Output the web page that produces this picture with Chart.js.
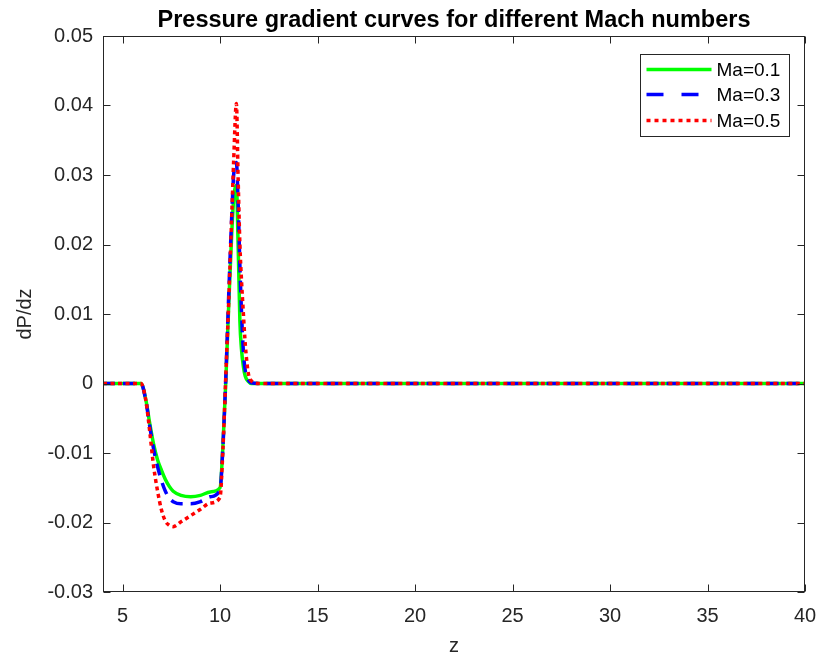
<!DOCTYPE html>
<html>
<head>
<meta charset="utf-8">
<script src="https://cdn.jsdelivr.net/npm/chart.js@4"></script>
<style>
  html, body { margin: 0; padding: 0; background: #fff; }
  canvas { display: block; }
</style>
</head>
<body>
<canvas id="dpdz" width="821" height="664"></canvas>
<script>
// values
const zGrid = [4, 5, 5.95, 6.2, 6.4, 6.6, 6.8, 7.0, 7.2, 7.4, 7.6, 8, 8.5, 9, 9.5, 10,
  10.15, 10.3, 10.45, 10.6, 10.7, 10.84, 10.93, 11.02, 11.1, 11.2, 11.3, 11.45, 11.6, 12, 20, 30, 40];

const dpMa01 = [0, 0, 0, -0.0024, -0.0058, -0.0088, -0.0110, -0.0125, -0.0138, -0.0148, -0.0155,
  -0.0161, -0.0163, -0.0161, -0.0156, -0.0150, -0.0090, 0.0005, 0.0115, 0.0215, 0.0265, 0.0285,
  0.0200, 0.0090, 0.0050, 0.0024, 0.0010, 0.0003, 0, 0, 0, 0, 0];
const dpMa03 = [0, 0, 0, -0.0025, -0.0062, -0.0095, -0.0120, -0.0140, -0.0155, -0.0165, -0.0170,
  -0.0173, -0.0173, -0.0170, -0.0163, -0.0153, -0.0090, 0.0010, 0.0130, 0.0240, 0.0300, 0.0318,
  0.0260, 0.0170, 0.0105, 0.0045, 0.0018, 0.0005, 0.0001, 0, 0, 0, 0];
const dpMa05 = [0, 0, 0, -0.0025, -0.0070, -0.0120, -0.0155, -0.0182, -0.0198, -0.0204, -0.0206,
  -0.0199, -0.0190, -0.0181, -0.0172, -0.0164, -0.0095, 0.0013, 0.0120, 0.0240, 0.0320, 0.0403,
  0.0295, 0.0200, 0.0150, 0.0100, 0.0055, 0.0015, 0.0004, 0, 0, 0, 0];

const seriesLabels = ["Ma=0.1", "Ma=0.3", "Ma=0.5"];
const xTicks = [5, 10, 15, 20, 25, 30, 35, 40];
const yTicks = [-0.03, -0.02, -0.01, 0, 0.01, 0.02, 0.03, 0.04, 0.05];
const yTickLabels = ["-0.03", "-0.02", "-0.01", "0", "0.01", "0.02", "0.03", "0.04", "0.05"];

const FONT = "'Liberation Sans', Arial, Helvetica, sans-serif";
const AXIS = "#262626";

function toPoints(ys) {
  return zGrid.map((z, i) => ({ x: z, y: ys[i] }));
}

// MATLAB-ish box, inward ticks, and line legend
const matlabFrame = {
  id: "matlabFrame",
  afterDatasetsDraw(chart) {
    const { ctx, chartArea: a, scales: { x, y } } = chart;
    const L = Math.round(a.left) + 0.5, R = Math.round(a.right) - 0.5;
    const T = Math.round(a.top) + 0.5, B = Math.round(a.bottom) - 0.5;
    const tick = 7;

    ctx.save();
    ctx.strokeStyle = AXIS;
    ctx.lineWidth = 1;
    ctx.setLineDash([]);
    ctx.strokeRect(L, T, R - L, B - T);

    ctx.beginPath();
    xTicks.forEach((v) => {
      const px = Math.round(x.getPixelForValue(v)) + 0.5;
      ctx.moveTo(px, B); ctx.lineTo(px, B - tick);
      ctx.moveTo(px, T); ctx.lineTo(px, T + tick);
    });
    yTicks.forEach((v) => {
      const py = Math.round(y.getPixelForValue(v)) + 0.5;
      ctx.moveTo(L, py); ctx.lineTo(L + tick, py);
      ctx.moveTo(R, py); ctx.lineTo(R - tick, py);
    });
    ctx.stroke();

    // legend box
    const w = 149, h = 82;
    const bx = Math.round(a.right) - 16 - w + 0.5;
    const by = Math.round(a.top) + 18 + 0.5;
    ctx.fillStyle = "#fff";
    ctx.fillRect(bx, by, w, h);
    ctx.strokeStyle = AXIS;
    ctx.strokeRect(bx, by, w, h);

    const rows = [15, 40, 66];
    ctx.font = "19px " + FONT;
    ctx.textBaseline = "middle";
    ctx.textAlign = "left";
    chart.data.datasets.forEach((ds, i) => {
      const ly = by + rows[i];
      ctx.save();
      ctx.strokeStyle = ds.borderColor;
      ctx.lineWidth = ds.borderWidth;
      ctx.lineCap = "butt";
      ctx.setLineDash(ds.legendDash || []);
      ctx.beginPath();
      ctx.moveTo(bx + 6, ly);
      ctx.lineTo(bx + 71, ly);
      ctx.stroke();
      ctx.restore();
      ctx.fillStyle = "#000";
      ctx.fillText(ds.label, bx + 76, ly + 1);
    });
    ctx.restore();
  },
};

new Chart(document.getElementById("dpdz"), {
  type: "line",
  data: {
    datasets: [
      {
        label: seriesLabels[0],
        data: toPoints(dpMa01),
        borderColor: "#00ff00",
        borderWidth: 3.5,
        order: 2,
        legendDash: [],
      },
      {
        label: seriesLabels[1],
        data: toPoints(dpMa03),
        borderColor: "#0000ff",
        borderWidth: 3.5,
        borderDash: [12, 8],
        order: 1,
        legendDash: [17, 18],
      },
      {
        label: seriesLabels[2],
        data: toPoints(dpMa05),
        borderColor: "#ff0000",
        borderWidth: 3.5,
        borderDash: [4, 3.5],
        order: 0,
        legendDash: [4, 4],
      },
    ],
  },
  options: {
    responsive: false,
    animation: false,
    devicePixelRatio: 1,
    layout: { padding: { top: 0, right: 16, bottom: 0, left: 0 } },
    elements: {
      point: { radius: 0, hoverRadius: 0 },
      line: { cubicInterpolationMode: "monotone", borderCapStyle: "butt", borderJoinStyle: "round" },
    },
    plugins: {
      legend: { display: false },
      tooltip: { enabled: false },
      title: {
        display: true,
        text: "Pressure gradient curves for different Mach numbers",
        fullSize: false,
        color: "#000",
        font: { family: FONT, size: 23.5, weight: "bold", lineHeight: 1.1 },
        padding: { top: 8, bottom: 2.15 },
      },
    },
    scales: {
      x: {
        type: "linear",
        min: 4,
        max: 40,
        grid: { display: false, drawTicks: false },
        border: { display: false },
        afterBuildTicks: (s) => { s.ticks = xTicks.map((v) => ({ value: v })); },
        afterFit: (s) => { s.height = 72; s.paddingLeft = 0; s.paddingRight = 0; },
        ticks: {
          color: AXIS,
          font: { family: FONT, size: 20 },
          padding: 12,
          maxRotation: 0,
          autoSkip: false,
        },
        title: {
          display: true,
          text: "z",
          color: AXIS,
          font: { family: FONT, size: 20 },
          padding: { top: 0, bottom: 6 },
        },
      },
      y: {
        min: -0.03,
        max: 0.05,
        grid: { display: false, drawTicks: false },
        border: { display: false },
        afterBuildTicks: (s) => { s.ticks = yTicks.map((v) => ({ value: v })); },
        afterFit: (s) => { s.width = 103; s.paddingTop = 0; s.paddingBottom = 0; },
        ticks: {
          color: AXIS,
          font: { family: FONT, size: 20 },
          padding: 10,
          autoSkip: false,
          callback: (v) => {
            const i = yTicks.findIndex((t) => Math.abs(t - v) < 1e-9);
            return i >= 0 ? yTickLabels[i] : "";
          },
        },
        title: {
          display: true,
          text: "dP/dz",
          color: AXIS,
          font: { family: FONT, size: 20 },
          padding: { top: 13, bottom: 0 },
        },
      },
    },
  },
  plugins: [matlabFrame],
});
</script>
</body>
</html>
